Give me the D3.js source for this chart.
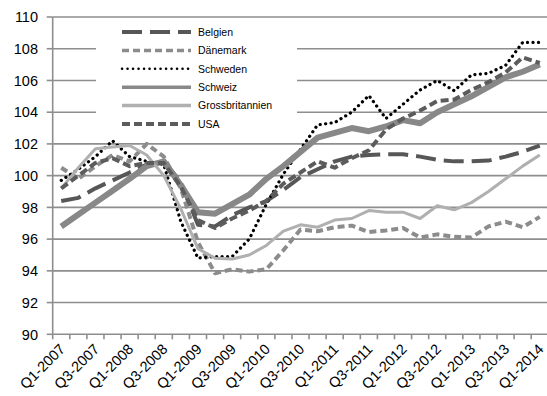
<!DOCTYPE html>
<html>
<head>
<meta charset="utf-8">
<script src="https://cdn.jsdelivr.net/npm/d3@7/dist/d3.min.js"></script>
<style>
  body { margin: 0; background: #fff; }
  svg text { font-family: "Liberation Sans", Arial, sans-serif; fill: #000; }
</style>
</head>
<body>
<div id="viz"></div>
<script>
// Quarterly index values, Q1-2007 .. Q1-2014
var quarters = ["Q1-2007","Q2-2007","Q3-2007","Q4-2007","Q1-2008","Q2-2008","Q3-2008","Q4-2008",
                "Q1-2009","Q2-2009","Q3-2009","Q4-2009","Q1-2010","Q2-2010","Q3-2010","Q4-2010",
                "Q1-2011","Q2-2011","Q3-2011","Q4-2011","Q1-2012","Q2-2012","Q3-2012","Q4-2012",
                "Q1-2013","Q2-2013","Q3-2013","Q4-2013","Q1-2014"];
var yTicks = [90, 92, 94, 96, 98, 100, 102, 104, 106, 108, 110];

var belgien  = [98.4, 98.6, 99.2, 99.7, 100.2, 100.7, 100.9, 99.6, 96.9, 96.8, 97.5, 98.0, 98.4, 99.1, 99.9,
                100.4, 100.9, 101.2, 101.3, 101.35, 101.35, 101.2, 101.0, 100.9, 100.9, 100.95, 101.2, 101.5, 101.9];
var daenemark = [100.5, 99.8, 100.6, 101.3, 100.9, 102.0, 101.2, 99.2, 95.8, 93.85, 94.1, 93.95, 94.1, 95.3, 96.6,
                96.5, 96.75, 96.85, 96.45, 96.55, 96.7, 96.1, 96.3, 96.15, 96.1, 96.8, 97.1, 96.75, 97.4];
var schweden = [99.7, 100.4, 101.2, 102.2, 101.2, 100.9, 100.7, 97.1, 94.8, 94.9, 94.9, 96.0, 98.2, 100.1, 101.65,
                103.2, 103.35, 104.0, 105.05, 103.6, 104.5, 105.4, 106.0, 105.35, 106.35, 106.45, 106.95, 108.4, 108.4];
var schweiz  = [96.8, 97.55, 98.3, 99.05, 99.8, 100.6, 100.9, 99.4, 97.7, 97.6, 98.2, 98.8, 99.8, 100.6, 101.5,
                102.4, 102.7, 103.0, 102.8, 103.1, 103.5, 103.3, 104.0, 104.5, 105.0, 105.6, 106.2, 106.55, 107.0];
var gb       = [99.2, 100.5, 101.7, 101.8, 101.9, 101.3, 100.0, 97.9, 95.4, 94.8, 94.75, 95.0, 95.6, 96.5, 96.9,
                96.75, 97.2, 97.3, 97.8, 97.7, 97.7, 97.3, 98.1, 97.85, 98.3, 99.0, 99.8, 100.6, 101.3];
var usa      = [99.2, 100.0, 100.8, 101.1, 100.6, 100.8, 100.8, 99.3, 97.2, 96.7, 97.3, 97.8, 98.4, 99.5, 100.2,
                100.9, 100.5, 101.1, 101.6, 102.9, 103.6, 104.1, 104.7, 104.8, 105.4, 105.9, 106.5, 107.45, 107.1];

// drawing order as in the original (later on top)
var series = [
  {name: "Belgien",         values: belgien,   color: "#575757", width: 4,   dash: "20,8",  legendWidth: 4},
  {name: "Dänemark",        values: daenemark, color: "#8c8c8c", width: 4,   dash: "7,4",   legendWidth: 3.5},
  {name: "Schweden",        values: schweden,  color: "#000000", width: 3.2, dash: "0.1,5.4", cap: "round", legendWidth: 2.5},
  {name: "Schweiz",         values: schweiz,   color: "#888888", width: 6,   dash: null,    legendWidth: 3.5},
  {name: "Grossbritannien", values: gb,        color: "#b0b0b0", width: 3,   dash: null,    legendWidth: 3.5},
  {name: "USA",             values: usa,       color: "#5c5c5c", width: 4,   dash: "8,4",   legendWidth: 4}
];

var W = 547, H = 396;
var plotLeft = 52.7, plotRight = 548.3, plotTop = 17, plotBottom = 334.3;
var gridColor = "#8e8e8e";

var svg = d3.select("#viz").append("svg")
    .attr("width", W)
    .attr("height", H);

var x = d3.scaleBand().domain(quarters).range([plotLeft, plotRight]).padding(0);
var y = d3.scaleLinear().domain([90, 110]).range([plotBottom, plotTop]);
var cx = function(q) { return x(q) + x.bandwidth() / 2; };

// gridlines
svg.append("g").selectAll("line")
    .data(yTicks.filter(function(d) { return d > 90; }))
    .enter().append("line")
    .attr("x1", plotLeft).attr("x2", W)
    .attr("y1", function(d) { return y(d); })
    .attr("y2", function(d) { return y(d); })
    .attr("stroke", gridColor)
    .attr("stroke-width", 1.6);

// y axis
svg.append("line")
    .attr("x1", plotLeft).attr("x2", plotLeft)
    .attr("y1", plotTop).attr("y2", plotBottom)
    .attr("stroke", gridColor).attr("stroke-width", 1.6);
svg.append("g").selectAll("line")
    .data(yTicks).enter().append("line")
    .attr("x1", plotLeft - 6).attr("x2", plotLeft)
    .attr("y1", function(d) { return y(d); })
    .attr("y2", function(d) { return y(d); })
    .attr("stroke", gridColor).attr("stroke-width", 1.6);
svg.append("g").selectAll("text")
    .data(yTicks).enter().append("text")
    .attr("x", 38)
    .attr("y", function(d) { return y(d); })
    .attr("dy", "0.36em")
    .attr("text-anchor", "end")
    .style("font-size", "14.5px")
    .text(function(d) { return d; });

// x axis
svg.append("line")
    .attr("x1", plotLeft).attr("x2", W)
    .attr("y1", plotBottom).attr("y2", plotBottom)
    .attr("stroke", gridColor).attr("stroke-width", 1.6);
svg.append("g").selectAll("line")
    .data(quarters).enter().append("line")
    .attr("x1", function(d) { return x(d); })
    .attr("x2", function(d) { return x(d); })
    .attr("y1", plotBottom).attr("y2", plotBottom + 5)
    .attr("stroke", gridColor).attr("stroke-width", 1.6);
svg.append("g").selectAll("text")
    .data(quarters.filter(function(d, i) { return i % 2 == 0; }))
    .enter().append("text")
    .attr("transform", function(d) { return "translate(" + (cx(d) + 1) + "," + (plotBottom + 12) + ") rotate(-45)"; })
    .attr("dy", "0.36em")
    .attr("text-anchor", "end")
    .style("font-size", "14.5px")
    .text(function(d) { return d; });

// legend background (hides gridlines)
svg.append("rect")
    .attr("x", 96).attr("y", 21)
    .attr("width", 201).attr("height", 116)
    .attr("fill", "#fff");

// lines
var line = d3.line()
    .x(function(d, i) { return cx(quarters[i]); })
    .y(function(d) { return y(d); });

svg.append("g").selectAll("path")
    .data(series).enter().append("path")
    .attr("d", function(s) { return line(s.values); })
    .attr("fill", "none")
    .attr("stroke", function(s) { return s.color; })
    .attr("stroke-width", function(s) { return s.width; })
    .attr("stroke-dasharray", function(s) { return s.dash; })
    .attr("stroke-linecap", function(s) { return s.cap || "butt"; })
    .attr("stroke-linejoin", "round");

// legend
var legend = svg.append("g");
var rows = legend.selectAll("g")
    .data(series).enter().append("g")
    .attr("transform", function(s, i) { return "translate(0," + (32 + i * 18.4) + ")"; });
rows.append("line")
    .attr("x1", 122).attr("x2", 191)
    .attr("y1", 0).attr("y2", 0)
    .attr("stroke", function(s) { return s.color; })
    .attr("stroke-width", function(s) { return s.legendWidth; })
    .attr("stroke-dasharray", function(s) { return s.dash; })
    .attr("stroke-linecap", function(s) { return s.cap || "butt"; });
rows.append("text")
    .attr("x", 198).attr("y", 0)
    .attr("dy", "0.36em")
    .style("font-size", "10.5px")
    .text(function(s) { return s.name; });
</script>
</body>
</html>
